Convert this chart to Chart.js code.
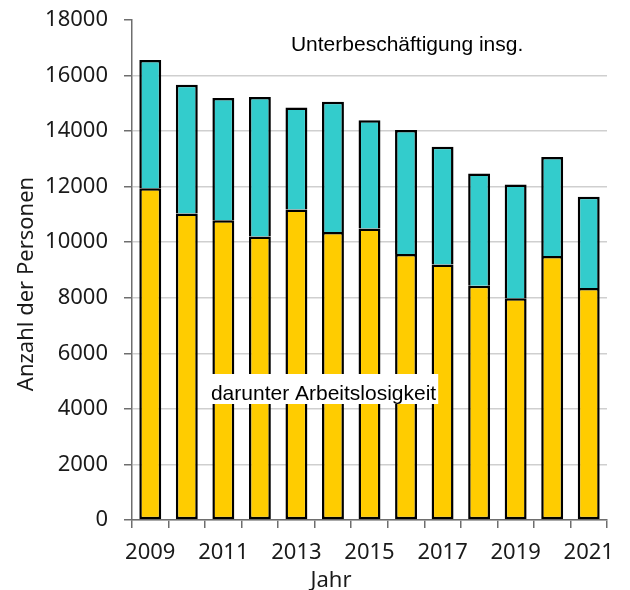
<!DOCTYPE html>
<html>
<head>
<meta charset="utf-8">
<script src="https://cdn.jsdelivr.net/npm/chart.js@4.4.1/dist/chart.umd.min.js"></script>
<style>
  body { margin: 0; background: #fff; }
  canvas { display: block; }
</style>
</head>
<body>
<canvas id="chart" width="630" height="590"></canvas>
<script>
// Jahre und Werte
var jahre = ['2009', '2010', '2011', '2012', '2013', '2014', '2015', '2016', '2017', '2018', '2019', '2020', '2021'];
var unterbeschaeftigung = [16560, 15670, 15190, 15230, 14850, 15060, 14390, 14040, 13440, 12470, 12080, 13070, 11640];
var arbeitslosigkeit = [11940, 11030, 10790, 10210, 11180, 10370, 10490, 9580, 9200, 8430, 7980, 9500, 8350];
var yTicks = [0, 2000, 4000, 6000, 8000, 10000, 12000, 14000, 16000, 18000];

// top segment = total minus unemployment
var rest = unterbeschaeftigung.map(function (v, i) { return v - arbeitslosigkeit[i]; });

var tickFont = { family: '"Noto Sans", "Open Sans", sans-serif', size: 22 };
var labelFont = '21px "Liberation Sans", Arial, sans-serif';

var textPlugin = {
    id: 'texte',
    afterDatasetsDraw: function (chart) {
        var ctx = chart.ctx, x = chart.scales.x, y = chart.scales.y;
        ctx.save();
        ctx.font = labelFont;
        ctx.fillStyle = '#000';
        ctx.textBaseline = 'alphabetic';
        ctx.fillText('Unterbeschäftigung insg.', x.getPixelForValue(3.85), y.getPixelForValue(16880));

        var t = 'darunter Arbeitslosigkeit';
        var lx = x.getPixelForValue(1.66), ly = y.getPixelForValue(4320);
        var w = ctx.measureText(t).width;
        ctx.fillStyle = '#fff';
        ctx.fillRect(lx, ly - 26, w + 2, 30);
        ctx.fillStyle = '#000';
        ctx.fillText(t, lx, ly);

        // axis titles
        ctx.font = '22px "Noto Sans", "Open Sans", sans-serif';
        ctx.fillStyle = '#1a1a1a';
        ctx.textAlign = 'center';
        ctx.fillText('Jahr', 331, 587);
        ctx.translate(33, 284);
        ctx.rotate(-Math.PI / 2);
        ctx.fillText('Anzahl der Personen', 0, 0);
        ctx.restore();
    }
};

new Chart(document.getElementById('chart'), {
    type: 'bar',
    data: {
        labels: jahre,
        datasets: [{
            label: 'darunter Arbeitslosigkeit',
            data: arbeitslosigkeit,
            backgroundColor: '#FFCC00',
            borderColor: '#000',
            borderWidth: 2.5,
            borderSkipped: false,
            categoryPercentage: 1,
            barPercentage: 0.6
        }, {
            label: 'Unterbeschäftigung insg.',
            data: rest,
            backgroundColor: '#33CCCC',
            borderColor: '#000',
            borderWidth: 2.5,
            borderSkipped: 'start',
            categoryPercentage: 1,
            barPercentage: 0.6
        }]
    },
    options: {
        responsive: false,
        animation: false,
        layout: { padding: { left: 0, top: 20, right: 23, bottom: 0 } },
        plugins: {
            legend: { display: false },
            tooltip: { enabled: false }
        },
        scales: {
            x: {
                stacked: true,
                offset: true,
                grid: {
                    offset: true,
                    drawOnChartArea: false,
                    tickLength: 8,
                    tickColor: '#6e6e6e',
                    lineWidth: 1.5
                },
                border: { color: '#6e6e6e', width: 1.5 },
                ticks: {
                    autoSkip: false,
                    maxRotation: 0,
                    padding: 12,
                    color: '#1a1a1a',
                    font: tickFont,
                    callback: function (v, i) { return i % 2 === 0 ? jahre[i] : ''; }
                },
                afterFit: function (s) { s.height = 70; s.paddingLeft = 0; s.paddingRight = 0; }
            },
            y: {
                stacked: true,
                min: 0,
                max: 18000,
                grid: {
                    color: function (c) { return c.tick && c.tick.value === 18000 ? 'rgba(0,0,0,0)' : '#cfcfcf'; },
                    tickColor: '#6e6e6e',
                    tickLength: 8,
                    lineWidth: 1.5
                },
                border: { color: '#6e6e6e', width: 1.5 },
                afterBuildTicks: function (s) { s.ticks = yTicks.map(function (v) { return { value: v }; }); },
                ticks: {
                    padding: 16,
                    color: '#1a1a1a',
                    font: tickFont,
                    callback: function (v) { return String(v); }
                },
                afterFit: function (s) { s.width = 132; s.paddingTop = 0; s.paddingBottom = 0; }
            }
        }
    },
    plugins: [textPlugin]
});
</script>
</body>
</html>
